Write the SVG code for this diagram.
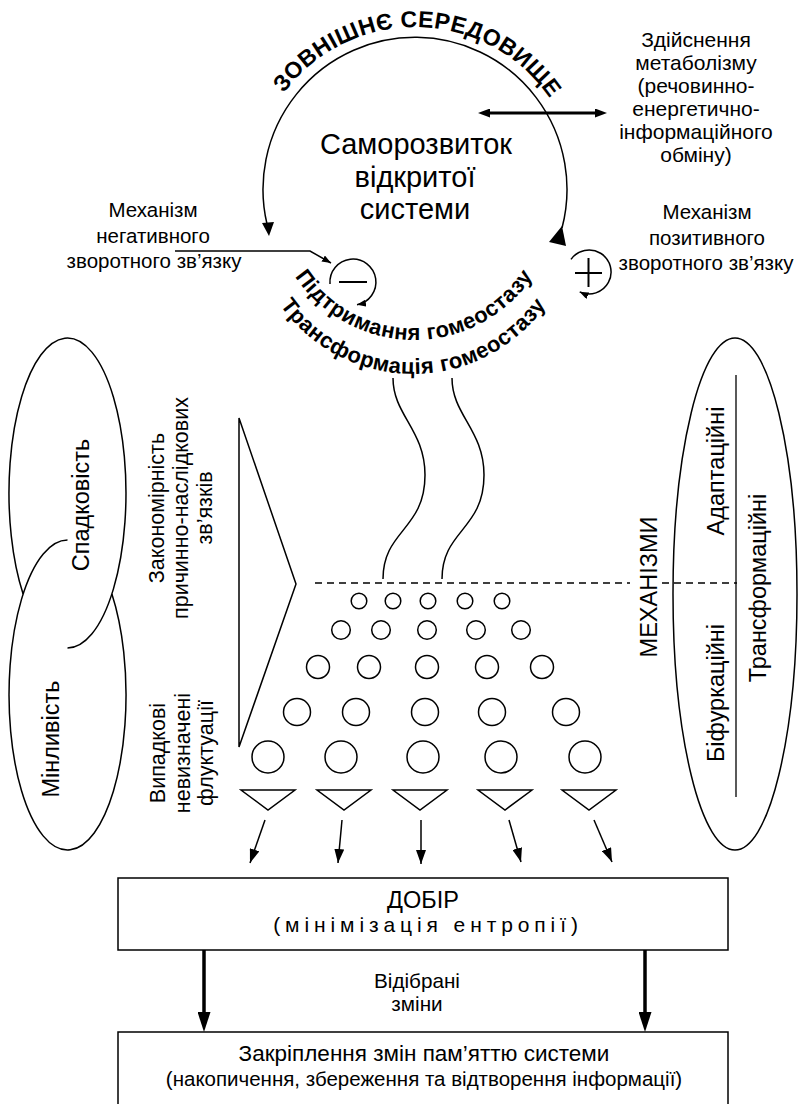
<svg xmlns="http://www.w3.org/2000/svg" width="803" height="1104" viewBox="0 0 803 1104">
<style>
.ln{fill:none;stroke:#000;stroke-width:1.5}
.t{font-family:"Liberation Sans",Arial,sans-serif;fill:#000}
.b{font-weight:bold}
.c{text-anchor:middle}
.dash{fill:none;stroke:#000;stroke-width:1.5;stroke-dasharray:7 5}
</style>
<defs>
<marker id="ms" markerUnits="userSpaceOnUse" markerWidth="14" markerHeight="10" refX="14" refY="5" orient="auto"><path d="M0,0 L14,5 L0,10 z" fill="#000"/></marker>
<marker id="mt" markerUnits="userSpaceOnUse" markerWidth="9" markerHeight="7" refX="9" refY="3.5" orient="auto"><path d="M0,0 L9,3.5 L0,7 z" fill="#000"/></marker>
<marker id="mb" markerUnits="userSpaceOnUse" markerWidth="20" markerHeight="13" refX="0" refY="6.5" orient="auto"><path d="M0,0 L20,6.5 L0,13 z" fill="#000"/></marker>
<marker id="md" markerUnits="userSpaceOnUse" markerWidth="12" markerHeight="9" refX="0" refY="4.5" orient="auto-start-reverse"><path d="M0,0 L12,4.5 L0,9 z" fill="#000"/></marker>
<path id="pEnv" d="M252,190 A163 163 0 0 1 578,190"/>
<path id="pHom1" d="M271,197 A143 143 0 0 0 557,197"/>
<path id="pHom2" d="M250,211 A163 163 0 0 0 576,211"/>
</defs>

<g id="environment">
<path class="ln" d="M267,224 A152 152 0 1 1 562,228"/>
<polygon points="262,223 274,222 269,236" fill="#000"/>
<polygon points="562,226 549,242 566,246" fill="#000"/>
<text class="t b" font-size="23"><textPath href="#pEnv" startOffset="259" text-anchor="middle" textLength="311">ЗОВНІШНЄ СЕРЕДОВИЩЕ</textPath></text>
</g>

<g id="self-development">
<text class="t c" font-size="29" x="416" y="154">Саморозвиток</text>
<text class="t c" font-size="29" x="415" y="187">відкритої</text>
<text class="t c" font-size="29" x="415" y="219">системи</text>
</g>

<g id="metabolism">
<text class="t c" font-size="21" x="696" y="47">Здійснення</text>
<text class="t c" font-size="21" x="696" y="70">метаболізму</text>
<text class="t c" font-size="21" x="696" y="93">(речовинно-</text>
<text class="t c" font-size="21" x="696" y="116">енергетично-</text>
<text class="t c" font-size="21" x="696" y="139">інформаційного</text>
<text class="t c" font-size="21" x="696" y="162">обміну)</text>
</g>

<g id="negative-feedback">
<text class="t c" font-size="20.5" x="153" y="217">Механізм</text>
<text class="t c" font-size="20.5" x="153" y="243">негативного</text>
<text class="t c" font-size="20.5" x="154" y="268">зворотного зв’язку</text>
<path class="ln" stroke-width="1.3" d="M330,284 A23 23 0 1 1 357,304.7" marker-end="url(#mt)"/>
<line x1="339" y1="282" x2="367" y2="282" stroke="#000" stroke-width="2"/>
</g>

<g id="positive-feedback">
<text class="t c" font-size="20.5" x="707" y="219">Механізм</text>
<text class="t c" font-size="20.5" x="707" y="245">позитивного</text>
<text class="t c" font-size="20.5" x="706" y="270">зворотного зв’язку</text>
<path class="ln" stroke-width="1.3" d="M571,259.4 A22 22 0 1 1 579.7,291.9" marker-end="url(#mt)"/>
<line x1="575" y1="273" x2="602" y2="273" stroke="#000" stroke-width="2"/>
<line x1="588.5" y1="258" x2="588.5" y2="287" stroke="#000" stroke-width="2"/>
</g>

<g id="homeostasis">
<text class="t b" font-size="22"><textPath href="#pHom1" startOffset="50%" text-anchor="middle" textLength="281">Підтримання гомеостазу</textPath></text>
<text class="t b" font-size="22"><textPath href="#pHom2" startOffset="50%" text-anchor="middle" textLength="311">Трансформація гомеостазу</textPath></text>
</g>

<g id="heredity-variability">
<path class="ln" d="M23.1,594 A58.5 155 0 1 1 67.5,648"/>
<path class="ln" d="M67.5,540 A58.5 155 0 1 0 111.9,594"/>
<text class="t c" font-size="23.5" transform="translate(89,505) rotate(-90)">Спадковість</text>
<text class="t c" font-size="23.5" transform="translate(59,739) rotate(-90)">Мінливість</text>
</g>

<g id="regularity">
<polygon class="ln" points="239,418 296,584 239,747"/>
<text class="t c" font-size="21.5" transform="translate(164,508) rotate(-90)">Закономірність</text>
<text class="t c" font-size="21.5" transform="translate(188,508) rotate(-90)">причинно-наслідкових</text>
<text class="t c" font-size="21.5" transform="translate(212,508) rotate(-90)">зв’язків</text>
<text class="t c" font-size="21.5" transform="translate(165,753) rotate(-90)">Випадкові</text>
<text class="t c" font-size="21.5" transform="translate(190,753) rotate(-90)">невизначені</text>
<text class="t c" font-size="21.5" transform="translate(213,753) rotate(-90)">флуктуації</text>
</g>

<g id="mechanisms">
<ellipse class="ln" cx="735" cy="594" rx="62" ry="256"/>
<line x1="736" y1="375" x2="736" y2="797" stroke="#000" stroke-width="1.3"/>
<text class="t c" font-size="23.5" transform="translate(657,587) rotate(-90)">МЕХАНІЗМИ</text>
<text class="t c" font-size="23.5" transform="translate(724,471) rotate(-90)">Адаптаційні</text>
<text class="t c" font-size="23.5" transform="translate(724,693) rotate(-90)">Біфуркаційні</text>
<text class="t c" font-size="23.5" transform="translate(766,588) rotate(-90)">Трансформаційні</text>
</g>

<g id="fluctuations">
<g class="ln">
<circle cx="359" cy="601" r="7.8"/><circle cx="393" cy="601" r="7.8"/><circle cx="428" cy="601" r="7.8"/><circle cx="465" cy="601" r="7.8"/><circle cx="502" cy="601" r="7.8"/>
<circle cx="341" cy="630" r="9.3"/><circle cx="381" cy="630" r="9.3"/><circle cx="427" cy="630" r="9.3"/><circle cx="476" cy="630" r="9.3"/><circle cx="521" cy="630" r="9.3"/>
<circle cx="318" cy="667" r="11.5"/><circle cx="369" cy="667" r="11.5"/><circle cx="427" cy="667" r="11.5"/><circle cx="487" cy="667" r="11.5"/><circle cx="542" cy="667" r="11.5"/>
<circle cx="297" cy="712" r="13.5"/><circle cx="356" cy="712" r="13.5"/><circle cx="425" cy="712" r="13.5"/><circle cx="492" cy="712" r="13.5"/><circle cx="566" cy="712" r="13.5"/>
<circle cx="268" cy="757" r="16"/><circle cx="341" cy="757" r="16"/><circle cx="423" cy="757" r="16"/><circle cx="501" cy="757" r="16"/><circle cx="585" cy="757" r="16"/>
<polygon points="241,790 295,790 268,810"/><polygon points="317,790 371,790 344,810"/><polygon points="393,790 447,790 420,810"/><polygon points="478,790 532,790 505,810"/><polygon points="562,790 616,790 589,810"/>
</g>
</g>

<g id="selection">
<rect class="ln" x="118" y="878" width="610" height="72"/>
<text class="t c" font-size="23.5" x="423" y="908">ДОБІР</text>
<text class="t c" font-size="21" x="428" y="932" letter-spacing="4.9">(мінімізація ентропії)</text>
</g>

<g id="memory">
<rect class="ln" x="118" y="1032" width="610" height="90"/>
<text class="t c" font-size="22.5" x="424" y="1061">Закріплення змін пам’яттю системи</text>
<text class="t c" font-size="20.5" x="424" y="1086">(накопичення, збереження та відтворення інформації)</text>
</g>

<g id="connectors">
<line x1="490" y1="113" x2="595" y2="113" stroke="#000" stroke-width="3" marker-start="url(#md)" marker-end="url(#md)"/>
<path class="ln" stroke-width="1.3" d="M175,251 L310,251 L331,263" marker-end="url(#mt)"/>
<path class="ln" d="M393,378 C393,415 425,430 425,475 C425,530 383,530 383,579"/>
<path class="ln" d="M452,378 C452,415 484,430 484,475 C484,530 442,530 442,579"/>
<line class="dash" x1="315" y1="583" x2="630" y2="583"/>
<line class="dash" x1="662" y1="583" x2="737" y2="583"/>
<g stroke="#000" stroke-width="1.5">
<line x1="265" y1="820" x2="250" y2="863" marker-end="url(#ms)"/>
<line x1="342" y1="820" x2="338" y2="863" marker-end="url(#ms)"/>
<line x1="421" y1="820" x2="421" y2="864" marker-end="url(#ms)"/>
<line x1="509" y1="820" x2="521" y2="862" marker-end="url(#ms)"/>
<line x1="594" y1="820" x2="612" y2="862" marker-end="url(#ms)"/>
</g>
<line x1="204" y1="950" x2="204" y2="1012" stroke="#000" stroke-width="3.5" marker-end="url(#mb)"/>
<line x1="645" y1="950" x2="645" y2="1012" stroke="#000" stroke-width="3.5" marker-end="url(#mb)"/>
<text class="t c" font-size="20.7" x="417" y="988">Відібрані</text>
<text class="t c" font-size="20.7" x="417" y="1011">зміни</text>
</g>
</svg>
